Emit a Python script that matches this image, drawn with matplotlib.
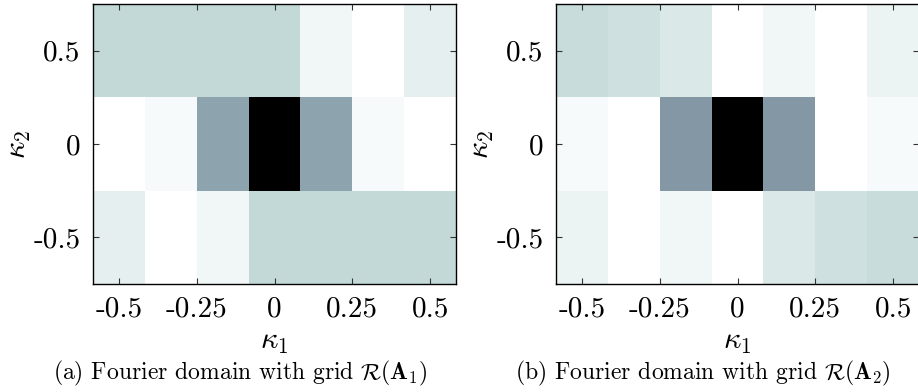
import matplotlib
matplotlib.use("Agg")
import matplotlib.pyplot as plt
import numpy as np

plt.rcParams["mathtext.fontset"] = "cm"
plt.rcParams["font.family"] = "cmr10"
plt.rcParams["axes.unicode_minus"] = False

# Grid of frequency samples
kappa1 = [-1 / 2, -1 / 3, -1 / 6, 0, 1 / 6, 1 / 3, 1 / 2]
kappa2 = [-0.5, 0.0, 0.5]

# Magnitudes (rows: kappa2 = -0.5, 0, 0.5)
mag_a = [
    [0.072, 0.0, 0.040, 0.174, 0.174, 0.174, 0.174],
    [0.0, 0.027, 0.368, 1.0, 0.368, 0.027, 0.0],
    [0.174, 0.174, 0.174, 0.174, 0.040, 0.0, 0.072],
]
mag_b = [
    [0.058, 0.0, 0.040, 0.0, 0.103, 0.140, 0.157],
    [0.027, 0.0, 0.410, 1.0, 0.410, 0.0, 0.027],
    [0.157, 0.140, 0.103, 0.0, 0.040, 0.0, 0.058],
]

xticks = [-0.5, -0.25, 0, 0.25, 0.5]
xticklabels = ["-0.5", "-0.25", "0", "0.25", "0.5"]
yticks = [-0.5, 0, 0.5]
yticklabels = ["-0.5", "0", "0.5"]

captions = [
    r"(a) Fourier domain with grid $\mathcal{R}(\mathbf{A}_1)$",
    r"(b) Fourier domain with grid $\mathcal{R}(\mathbf{A}_2)$",
]


def edges(c):
    c = np.asarray(c)
    mid = (c[1:] + c[:-1]) / 2
    return np.concatenate([[c[0] - (mid[0] - c[0])], mid, [c[-1] + (c[-1] - mid[-1])]])


fig = plt.figure(figsize=(9.18, 3.92), dpi=100)
lefts = [93 / 918, 556 / 918]
cap_x = [240 / 918, 703 / 918]

for i, mag in enumerate([mag_a, mag_b]):
    ax = fig.add_axes([lefts[i], 108 / 392, 363 / 918, 280 / 392])
    ax.pcolormesh(edges(kappa1), edges(kappa2), np.array(mag),
                  cmap="bone_r", vmin=0, vmax=1, shading="flat")
    ax.set_xlim(edges(kappa1)[0], edges(kappa1)[-1])
    ax.set_ylim(edges(kappa2)[0], edges(kappa2)[-1])
    ax.set_xticks(xticks)
    ax.set_xticklabels(xticklabels)
    ax.set_yticks(yticks)
    ax.set_yticklabels(yticklabels)
    ax.tick_params(direction="in", length=4, width=0.8, labelsize=21,
                   top=True, right=True, pad=9, colors="#333333",
                   labelcolor="black")
    for s in ax.spines.values():
        s.set_linewidth(1.0)
        s.set_zorder(5)
    ax.set_xlabel(r"$\kappa_1$", fontsize=22, labelpad=4)
    ax.set_ylabel(r"$\kappa_2$", fontsize=22, va="center")
    ax.yaxis.set_label_coords(-0.204, 0.5)
    fig.text(cap_x[i], 1 - 373 / 392, captions[i], ha="center", va="center",
             fontsize=17)

fig.savefig("out.png", dpi=100)
